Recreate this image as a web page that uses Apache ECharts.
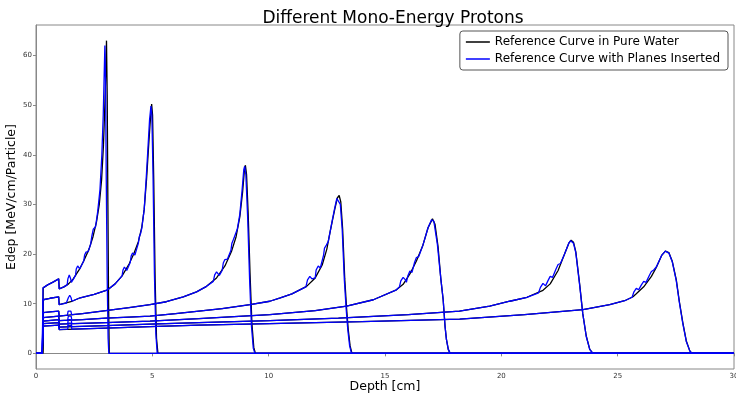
<!DOCTYPE html>
<html>
<head>
<meta charset="utf-8">
<script src="https://cdn.jsdelivr.net/npm/echarts@6/dist/echarts.min.js"></script>
<style>html,body{margin:0;padding:0;background:#fff}#c{width:736px;height:394px}</style>
</head>
<body>
<div id="c"></div>
<script>
const TITLE = 'Different Mono-Energy Protons';
const X_NAME = 'Depth [cm]';
const Y_NAME = 'Edep [MeV/cm/Particle]';
const LEGEND_WATER = 'Reference Curve in Pure Water';
const LEGEND_PLANES = 'Reference Curve with Planes Inserted';
const xTicks = [0, 5, 10, 15, 20, 25, 30];
const yTicks = [0, 10, 20, 30, 40, 50, 60];

// Pure water curves [depth cm, Edep]
const water1 = [[0,0],[0.28,0],[0.31,13.2],[0.5,13.8],[0.75,14.4],[0.98,15.0],[1.0,13.0],[1.2,13.4],[1.4,14.0],[1.6,15.0],[1.85,16.8],[2.05,18.6],[2.28,21.0],[2.45,23.5],[2.6,26.5],[2.72,30],[2.82,35],[2.9,42],[2.96,50],[3.0,57],[3.03,63],[3.06,52],[3.09,30],[3.12,10],[3.15,0],[30,0]];
const water2 = [[0,0],[0.28,0],[0.31,10.8],[0.6,11.1],[0.98,11.4],[1.0,9.8],[1.5,10.4],[1.9,11.2],[2.5,11.9],[3.08,12.8],[3.4,14.0],[3.7,15.6],[4.0,18.0],[4.2,20.0],[4.4,22.5],[4.55,25.5],[4.65,29],[4.75,35],[4.83,41],[4.9,46],[4.97,50.2],[5.01,48],[5.06,35],[5.12,15],[5.18,3],[5.24,0],[30,0]];
const water3 = [[0,0],[0.28,0],[0.31,8.2],[0.6,8.35],[0.98,8.5],[1.0,7.5],[2,8.0],[3,8.6],[4,9.2],[4.9,9.8],[5.6,10.4],[6.33,11.4],[6.9,12.4],[7.33,13.5],[7.76,15.2],[8.12,17.6],[8.4,20.5],[8.6,23.5],[8.76,27.5],[8.88,32.5],[8.95,36.5],[9.0,37.9],[9.05,36],[9.12,28],[9.2,16],[9.28,6],[9.36,1.2],[9.43,0],[30,0]];
const water4 = [[0,0],[0.28,0],[0.31,7.2],[0.98,7.5],[1.0,6.6],[2,6.8],[3,7.1],[4,7.3],[4.9,7.5],[6,8.0],[7,8.5],[8,9.0],[9.2,9.8],[10.05,10.5],[10.5,11.2],[11.0,12.0],[11.63,13.5],[12.0,15.2],[12.3,17.8],[12.5,21],[12.63,24.2],[12.75,27],[12.84,29],[12.95,31.3],[13.03,31.8],[13.1,30.5],[13.18,25],[13.27,15],[13.35,9],[13.42,4.8],[13.5,1.5],[13.58,0],[30,0]];
const water5 = [[0,0],[0.28,0],[0.31,6.5],[0.98,6.8],[1.0,5.9],[3,6.2],[4.9,6.5],[7,7.0],[10.05,7.8],[12,8.6],[13.35,9.5],[14.5,10.8],[15.49,12.8],[15.78,13.9],[16.07,16.0],[16.35,18.6],[16.63,21.8],[16.85,25.3],[17.04,27.1],[17.15,26],[17.28,21.5],[17.4,15],[17.5,10.8],[17.58,5.5],[17.64,2.8],[17.72,0.8],[17.8,0],[30,0]];
const water6 = [[0,0],[0.28,0],[0.31,6.0],[0.98,6.2],[1.0,5.3],[3,5.6],[4.9,5.9],[7,6.2],[10.05,6.6],[13,7.1],[16,7.8],[18.2,8.5],[19.5,9.5],[20.36,10.5],[21.1,11.3],[21.79,12.7],[22.1,14.0],[22.44,16.7],[22.7,19.8],[22.9,22.2],[23.0,22.8],[23.1,22.4],[23.2,20.5],[23.37,13.8],[23.5,8],[23.65,3.5],[23.8,0.8],[23.94,0],[30,0]];
const water7 = [[0,0],[0.28,0],[0.31,5.5],[0.98,5.7],[1.0,4.8],[3,5.1],[4.9,5.4],[7,5.7],[10.05,6.0],[14,6.4],[18.21,6.9],[21,7.8],[23.51,8.8],[24.66,9.8],[25.3,10.6],[25.66,11.4],[25.8,12.0],[26.12,13.4],[26.45,15.5],[26.66,17.3],[26.9,19.8],[27.05,20.6],[27.12,20.7],[27.2,20.3],[27.35,18.5],[27.52,14.8],[27.65,10.5],[27.8,6.2],[27.95,2.5],[28.1,0.5],[28.2,0],[30,0]];

// Curves with planes inserted [depth cm, Edep]
const planes1 = [[0,0],[0.27,0],[0.3,13.2],[0.5,13.8],[0.75,14.4],[0.97,15.0],[0.99,13.0],[1.2,13.4],[1.34,13.8],[1.37,15.0],[1.43,15.8],[1.49,15.0],[1.52,14.3],[1.6,14.9],[1.7,15.7],[1.73,17.0],[1.79,17.6],[1.85,17.2],[1.88,17.0],[2.05,18.6],[2.09,19.8],[2.15,20.4],[2.21,20.0],[2.24,20.5],[2.35,22.0],[2.4,23.6],[2.46,25.0],[2.52,25.0],[2.56,25.5],[2.65,28.5],[2.75,33],[2.83,40],[2.89,48],[2.93,56],[2.96,62],[2.99,55],[3.02,35],[3.06,15],[3.1,3],[3.13,0],[30,0]];
const planes2 = [[0,0],[0.27,0],[0.3,10.8],[0.6,11.1],[0.97,11.4],[0.99,9.8],[1.3,10.1],[1.36,10.3],[1.39,11.2],[1.45,11.7],[1.51,11.2],[1.54,10.5],[1.9,11.2],[2.5,11.9],[3.08,12.8],[3.4,14.0],[3.7,15.6],[3.74,16.8],[3.8,17.4],[3.86,17.0],[3.9,16.7],[4.05,18.3],[4.09,19.6],[4.15,20.2],[4.21,19.8],[4.25,19.8],[4.4,22.2],[4.44,23.5],[4.5,24.2],[4.55,25.3],[4.65,29],[4.74,35.5],[4.82,42],[4.88,47],[4.94,49.8],[4.98,48],[5.03,36],[5.09,16],[5.15,4],[5.21,0],[30,0]];
const planes3 = [[0,0],[0.27,0],[0.3,8.2],[0.6,8.35],[0.97,8.5],[0.99,7.5],[1.35,7.7],[1.38,8.5],[1.44,8.9],[1.5,8.5],[1.53,7.8],[2,8.0],[3,8.6],[4,9.2],[4.9,9.8],[5.6,10.4],[6.33,11.4],[6.9,12.4],[7.33,13.5],[7.62,14.5],[7.68,15.8],[7.76,16.4],[7.84,16.0],[7.88,15.7],[8.0,16.7],[8.05,18.2],[8.12,18.9],[8.19,18.6],[8.23,19.0],[8.38,20.8],[8.42,22.2],[8.49,23.0],[8.55,23.2],[8.65,25],[8.76,28],[8.86,33],[8.93,37],[8.97,37.7],[9.02,36],[9.1,27],[9.18,15],[9.26,5.5],[9.34,1.0],[9.41,0],[30,0]];
const planes4 = [[0,0],[0.27,0],[0.3,7.2],[0.97,7.5],[0.99,6.6],[1.36,6.7],[1.39,7.5],[1.45,7.8],[1.51,7.5],[1.54,6.7],[2,6.8],[3,7.1],[4,7.3],[4.9,7.5],[6,8.0],[7,8.5],[8,9.0],[9.2,9.8],[10.05,10.5],[10.5,11.2],[11.0,12.0],[11.6,13.4],[11.67,14.8],[11.77,15.5],[11.86,15.0],[11.9,14.8],[12.0,15.2],[12.04,16.8],[12.13,17.6],[12.22,17.2],[12.27,17.6],[12.36,19.8],[12.4,21.2],[12.48,21.8],[12.56,22.5],[12.63,24.2],[12.75,27.2],[12.84,29.3],[12.93,31.2],[13.0,31.5],[13.08,30],[13.16,25],[13.25,15],[13.33,9],[13.4,4.8],[13.48,1.5],[13.56,0],[30,0]];
const planes5 = [[0,0],[0.27,0],[0.3,6.5],[0.97,6.8],[0.99,5.9],[1.36,6.0],[1.39,6.8],[1.45,7.1],[1.51,6.8],[1.54,6.0],[3,6.2],[4.9,6.5],[7,7.0],[10.05,7.8],[12,8.6],[13.35,9.5],[14.5,10.8],[15.49,12.8],[15.62,13.4],[15.68,14.6],[15.78,15.3],[15.88,14.8],[15.92,14.3],[15.98,15.6],[16.07,16.6],[16.16,16.3],[16.22,16.6],[16.27,18.3],[16.35,19.3],[16.45,19.5],[16.63,21.8],[16.85,25.3],[17.0,26.9],[17.1,26.6],[17.25,22],[17.4,15],[17.5,10.8],[17.58,5.5],[17.64,2.8],[17.72,0.8],[17.8,0],[30,0]];
const planes6 = [[0,0],[0.27,0],[0.3,6.0],[0.97,6.2],[0.99,5.3],[1.36,5.4],[1.39,6.1],[1.45,6.4],[1.51,6.1],[1.54,5.4],[3,5.6],[4.9,5.9],[7,6.2],[10.05,6.6],[13,7.1],[16,7.8],[18.2,8.5],[19.5,9.5],[20.36,10.5],[21.1,11.3],[21.6,12.2],[21.68,13.3],[21.79,14.1],[21.9,13.6],[21.95,13.3],[22.0,14.6],[22.1,15.5],[22.2,15.3],[22.27,15.4],[22.35,17.0],[22.44,17.9],[22.54,18.1],[22.7,19.8],[22.9,22.2],[22.98,22.7],[23.1,22.2],[23.2,20.3],[23.37,13.6],[23.5,8],[23.65,3.4],[23.8,0.8],[23.93,0],[30,0]];
const planes7 = [[0,0],[0.27,0],[0.3,5.5],[0.97,5.7],[0.99,4.8],[1.36,4.9],[1.39,5.6],[1.45,5.9],[1.51,5.6],[1.54,4.9],[3,5.1],[4.9,5.4],[7,5.7],[10.05,6.0],[14,6.4],[18.21,6.9],[21,7.8],[23.51,8.8],[24.66,9.8],[25.3,10.6],[25.62,11.3],[25.7,12.4],[25.8,13.1],[25.9,12.8],[25.96,12.7],[26.02,13.8],[26.12,14.5],[26.22,14.3],[26.3,14.5],[26.37,15.8],[26.45,16.5],[26.55,16.8],[26.66,17.4],[26.9,19.8],[27.05,20.6],[27.1,20.7],[27.2,20.2],[27.35,18.4],[27.52,14.6],[27.65,10.3],[27.8,6.0],[27.95,2.4],[28.1,0.5],[28.18,0],[30,0]];

const waterCurves = [water1, water2, water3, water4, water5, water6, water7];
const planeCurves = [planes1, planes2, planes3, planes4, planes5, planes6, planes7];

const FONT = 'DejaVu Sans';
const series = [];
waterCurves.forEach(d => series.push({
  name: LEGEND_WATER, type: 'line', data: d, showSymbol: false, symbol: 'none',
  lineStyle: { color: '#000000', width: 1.3 }, itemStyle: { color: '#000000' }, z: 2
}));
planeCurves.forEach(d => series.push({
  name: LEGEND_PLANES, type: 'line', data: d, showSymbol: false, symbol: 'none',
  lineStyle: { color: '#0000ff', width: 1.3 }, itemStyle: { color: '#0000ff' }, z: 3
}));

const chart = echarts.init(document.getElementById('c'), null, { renderer: 'canvas' });
chart.setOption({
  animation: false,
  backgroundColor: '#ffffff',
  textStyle: { fontFamily: FONT },
  title: {
    text: TITLE, left: 388, top: 5, textAlign: 'center',
    textStyle: { fontFamily: FONT, fontSize: 17, fontWeight: 'normal', color: '#000' }
  },
  legend: {
    data: [LEGEND_WATER, LEGEND_PLANES],
    orient: 'vertical', right: 8, top: 31,
    padding: [5, 8, 5, 6], itemGap: 5,
    itemWidth: 24, itemHeight: 1.5, icon: 'rect',
    borderColor: '#555', borderWidth: 1, borderRadius: 3,
    textStyle: { fontFamily: FONT, fontSize: 12, color: '#000' }
  },
  graphic: [
    { type: 'text', x: 385, y: 387, silent: true,
      style: { text: X_NAME, fontFamily: FONT, fontSize: 12.5, fill: '#000', align: 'center', verticalAlign: 'middle' } },
    { type: 'text', x: 12, y: 197, rotation: Math.PI / 2, silent: true,
      style: { text: Y_NAME, fontFamily: FONT, fontSize: 12.5, fill: '#000', align: 'center', verticalAlign: 'middle' } }
  ],
  grid: { left: 36, right: 2, top: 25, bottom: 25, outerBoundsMode: 'none', containLabel: false,
          show: true, borderColor: '#888', borderWidth: 1 },
  xAxis: {
    type: 'value', min: 0, max: 30, interval: 5,
    axisLine: { show: true, lineStyle: { color: '#888' } },
    axisTick: { show: true, length: 3, lineStyle: { color: '#888' }, customValues: xTicks },
    axisLabel: { fontSize: 7, color: '#333', margin: 4, customValues: xTicks },
    splitLine: { show: false }
  },
  yAxis: {
    type: 'value', min: -3.15, max: 66.15,
    axisLine: { show: true, lineStyle: { color: '#888' } },
    axisTick: { show: true, length: 3, lineStyle: { color: '#888' }, customValues: yTicks },
    axisLabel: { fontSize: 7, color: '#333', margin: 4, customValues: yTicks },
    splitLine: { show: false }
  },
  series: series
});
</script>
</body>
</html>
